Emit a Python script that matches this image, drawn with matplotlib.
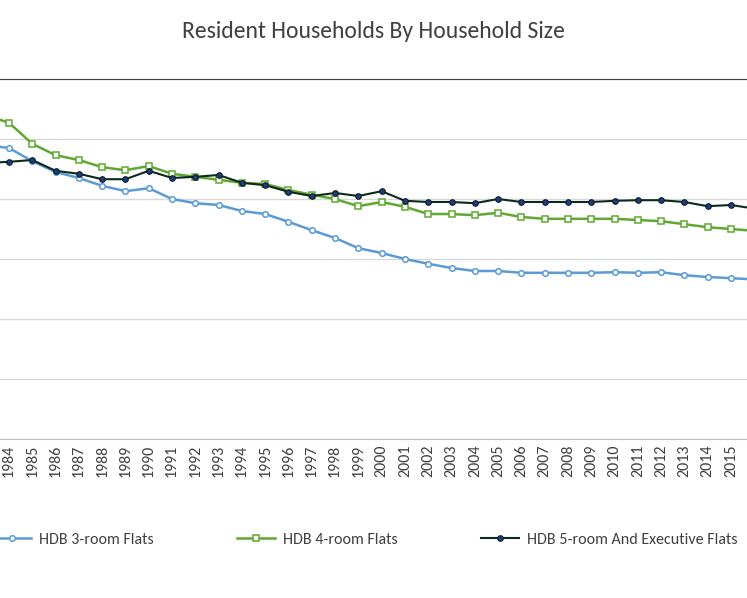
import numpy as np
import matplotlib.pyplot as plt

plt.rcParams["font.family"] = ["Carlito", "Liberation Sans", "DejaVu Sans"]

years = list(range(1983, 2017))
room3 = [4.9, 4.85, 4.63, 4.45, 4.35, 4.22, 4.13, 4.18, 4.0, 3.93, 3.9, 3.8, 3.75, 3.62,
         3.48, 3.35, 3.18, 3.1, 3.0, 2.92, 2.85, 2.8, 2.8, 2.77, 2.77, 2.77, 2.77, 2.78,
         2.77, 2.78, 2.73, 2.7, 2.68, 2.66]
room4 = [5.4, 5.27, 4.92, 4.73, 4.65, 4.53, 4.48, 4.55, 4.42, 4.37, 4.32, 4.27, 4.25, 4.15,
         4.07, 4.0, 3.88, 3.95, 3.87, 3.75, 3.75, 3.73, 3.77, 3.7, 3.67, 3.67, 3.67, 3.67,
         3.65, 3.63, 3.58, 3.53, 3.5, 3.47]
room5 = [4.6, 4.62, 4.65, 4.47, 4.42, 4.33, 4.33, 4.47, 4.35, 4.37, 4.4, 4.27, 4.23, 4.12,
         4.05, 4.1, 4.05, 4.13, 3.97, 3.95, 3.95, 3.93, 4.0, 3.95, 3.95, 3.95, 3.95, 3.97,
         3.98, 3.98, 3.95, 3.88, 3.9, 3.84]
tick_years = list(range(1984, 2016))

fig = plt.figure(figsize=(7.47, 5.98), dpi=100)
ax = fig.add_axes([0, 1 - 439 / 598, 1, 360 / 598])

ax.plot(years, room3, color="#5B9BD5", lw=1.8, marker="o", ms=4,
        mfc="white", mec="#5B9BD5", mew=1.1, label="HDB 3-room Flats")
ax.plot(years, room4, color="#5FA832", lw=1.8, marker="s", ms=4,
        mfc="white", mec="#5FA832", mew=1.1, label="HDB 4-room Flats")
ax.plot(years, room5, color="#0B2A1A", lw=1.5, marker="o", ms=4,
        mfc="#1F3F7A", mec="#0B1A2A", mew=0.8, label="HDB 5-room And Executive Flats")

# 1984 sits at x=9 px, one year ~23.3 px
ppy = 722 / 31
x0 = 1984 - 9 / ppy
ax.set_xlim(x0, x0 + 747 / ppy)
ax.set_ylim(0, 6)
ax.set_yticks([0, 1, 2, 3, 4, 5, 6])
ax.set_yticklabels([])
ax.tick_params(axis="y", length=0)
ax.set_xticks(tick_years)
ax.set_xticklabels([str(y) for y in tick_years], rotation=90, fontsize=11.5, color="#404040")
ax.tick_params(axis="x", length=0, pad=4)
ax.grid(axis="y", color="#D9D9D9", lw=1)
for s in ["left", "right"]:
    ax.spines[s].set_visible(False)
ax.spines["top"].set_color("#404040")
ax.spines["bottom"].set_color("#BFBFBF")

fig.text(0.5, 1 - 32 / 598, "Resident Households By Household Size", ha="center",
         va="center", fontsize=17, color="#404040")
fig.legend(loc="center right", bbox_to_anchor=(1.0, 1 - 540 / 598), ncol=3, frameon=False,
           fontsize=11.5, labelcolor="#404040", columnspacing=5.2, handlelength=2.4,
           handletextpad=0.5, borderaxespad=0.2)

fig.savefig("out.png", dpi=100)
